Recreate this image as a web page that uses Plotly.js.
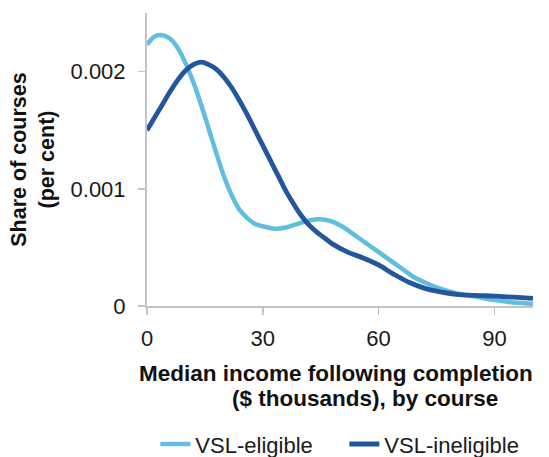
<!DOCTYPE html>
<html>
<head>
<meta charset="utf-8">
<script src="https://cdn.plot.ly/plotly-3.0.1.min.js"></script>
<style>html,body{margin:0;padding:0;background:#fff;}#chart{width:549px;height:457px;}</style>
</head>
<body>
<div id="chart"></div>
<script>
// Median income ($ thousands)
const incomeEligible = [0,2,4,6,8,10,12,14,16,18,20,22,24,26,28,30,33,36,39,42,45,48,51,54,57,60,63,66,69,72,75,80,85,90,95,100];
const shareEligible  = [0.00223,0.00230,0.00231,0.00228,0.00220,0.00207,0.00191,0.00172,0.00151,0.00130,0.00110,0.00094,0.00082,0.00075,0.00070,0.00068,0.00066,0.00067,0.00070,0.00073,0.00074,0.00072,0.00067,0.00060,0.00053,0.00046,0.00039,0.00032,0.00025,0.00020,0.00016,0.00011,0.00008,0.00005,0.00003,0.00002];

const incomeIneligible = [0,2,4,6,8,10,12,14,16,18,20,22,24,26,28,30,32,34,36,38,40,42,44,46,48,52,56,60,64,68,72,76,80,85,90,95,100];
const shareIneligible  = [0.00150,0.00161,0.00172,0.00183,0.00193,0.00201,0.00206,0.00208,0.00206,0.00202,0.00195,0.00186,0.00175,0.00163,0.00150,0.00137,0.00124,0.00111,0.00098,0.00087,0.00077,0.00069,0.00063,0.00058,0.00053,0.00046,0.00041,0.00035,0.00027,0.00020,0.00015,0.00012,0.00010,0.00009,0.000085,0.000075,0.000065];

const seriesNames = ['VSL-eligible','VSL-ineligible'];
const xTicks = [0,30,60,90];
const yTicks = [0,0.001,0.002];
const yTickLabels = ['0','0.001','0.002'];
const xTitleLines = ['Median income following completion','($ thousands), by course'];
const yTitle = 'Share of courses<br>(per cent)';

const FONT = '"Liberation Sans", Arial, sans-serif';

const traces = [
  {x: incomeEligible, y: shareEligible, name: seriesNames[0], type: 'scatter', mode: 'lines',
   line: {color: '#62BEE0', width: 4.5, shape: 'spline', smoothing: 1}},
  {x: incomeIneligible, y: shareIneligible, name: seriesNames[1], type: 'scatter', mode: 'lines',
   line: {color: '#23579B', width: 4.8, shape: 'spline', smoothing: 1}}
];

const layout = {
  width: 549, height: 457,
  margin: {l: 147, r: 16, t: 13, b: 151, autoexpand: false},
  paper_bgcolor: '#fff', plot_bgcolor: '#fff',
  font: {family: FONT, size: 22, color: '#1a1a1a'},
  showlegend: true,
  legend: {orientation: 'h', x: 0.283, xanchor: 'left', xref: 'container', y: 0.028, yref: 'container', yanchor: 'middle',
           font: {size: 22, color: '#1a1a1a'}, entrywidth: 144, traceorder: 'normal'},
  xaxis: {range: [0, 100], tickvals: xTicks, ticks: 'outside', ticklen: 7, tickwidth: 1.5,
          tickcolor: '#c4c4c4', showline: true, linecolor: '#c4c4c4', linewidth: 2,
          showgrid: false, zeroline: false, ticklabelstandoff: 5, fixedrange: true},
  yaxis: {range: [0, 0.0025], tickvals: yTicks, ticktext: yTickLabels, ticks: 'outside', ticklen: 7,
          tickwidth: 1.5, tickcolor: '#c4c4c4', showline: true, linecolor: '#c4c4c4', linewidth: 2,
          showgrid: false, zeroline: false, ticklabelstandoff: 8, fixedrange: true,
          title: {text: '<b>' + yTitle + '</b>', font: {size: 21.5, color: '#111'}, standoff: 10}},
  annotations: [
    {text: '<b>' + xTitleLines[0] + '</b>', xref: 'paper', yref: 'paper', x: 0.49, y: -0.229,
     xanchor: 'center', yanchor: 'middle', showarrow: false, font: {size: 22.5, color: '#111'}},
    {text: '<b>' + xTitleLines[1] + '</b>', xref: 'paper', yref: 'paper', x: 0.565, y: -0.317,
     xanchor: 'center', yanchor: 'middle', showarrow: false, font: {size: 22.5, color: '#111'}}
  ]
};

Plotly.newPlot('chart', traces, layout, {displayModeBar: false, staticPlot: true});
</script>
</body>
</html>
